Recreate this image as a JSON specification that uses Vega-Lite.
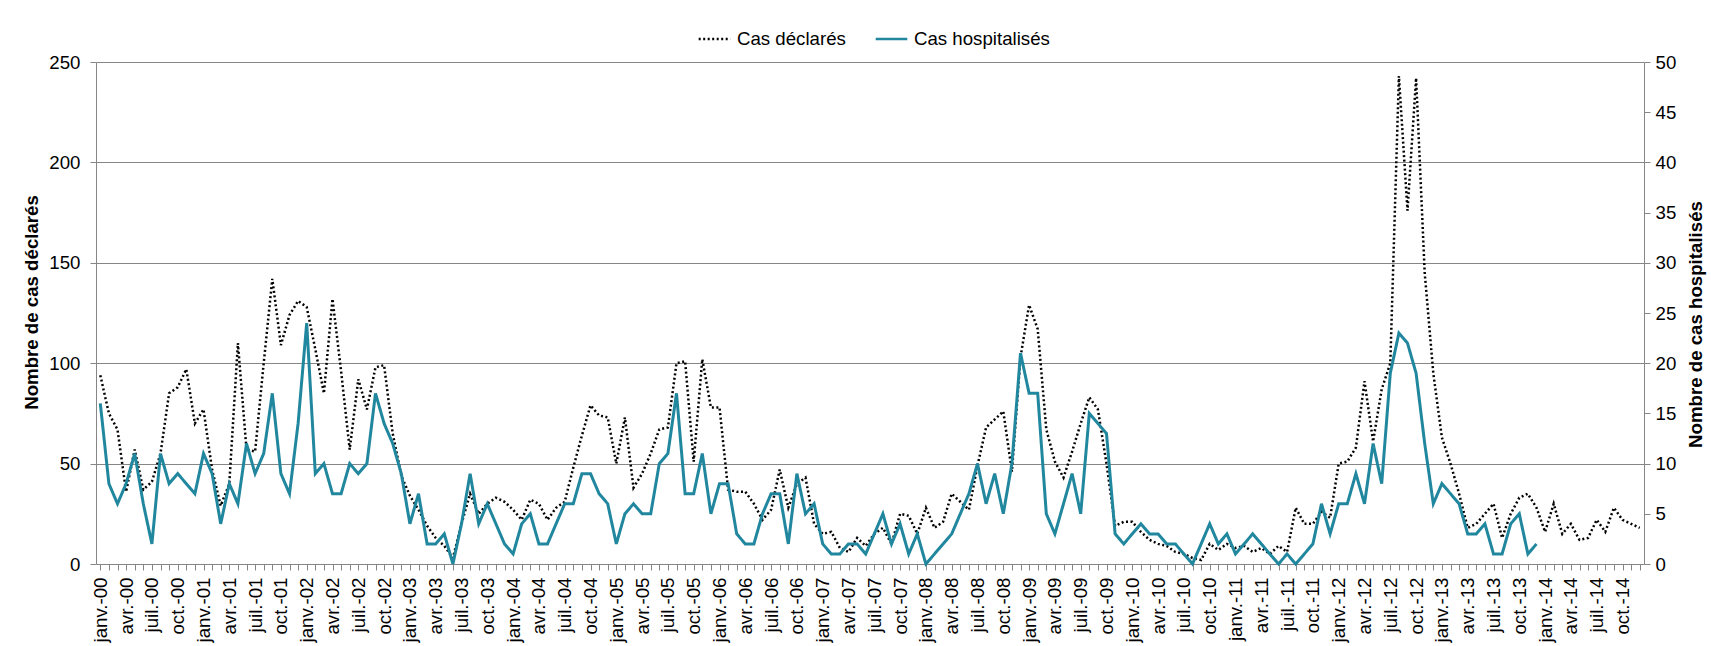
{
  "$schema": "https://vega.github.io/schema/vega-lite/v6.json",
  "width": 1548,
  "height": 502,
  "autosize": {"type": "none"},
  "padding": {"left": 96, "top": 62, "right": 67, "bottom": 82},
  "background": "white",
  "config": {
    "font": "Liberation Sans",
    "view": {"stroke": null},
    "axis": {
      "labelFont": "Liberation Sans",
      "titleFont": "Liberation Sans",
      "labelFontSize": 18.67,
      "titleFontSize": 18.67,
      "titleFontWeight": "bold",
      "labelColor": "#000000",
      "titleColor": "#000000",
      "domainColor": "#868686",
      "tickColor": "#868686",
      "gridColor": "#868686",
      "domainWidth": 1,
      "tickWidth": 1,
      "gridWidth": 1,
      "tickSize": 6
    },
    "legend": {"labelFont": "Liberation Sans"}
  },
  "data": {"values": [
    {"date":"2000-01","declares":94,"hospitalises":16},{"date":"2000-02","declares":75,"hospitalises":8},{"date":"2000-03","declares":67,"hospitalises":6},{"date":"2000-04","declares":36,"hospitalises":8},{"date":"2000-05","declares":57,"hospitalises":11},{"date":"2000-06","declares":37,"hospitalises":6},{"date":"2000-07","declares":41,"hospitalises":2},{"date":"2000-08","declares":55,"hospitalises":11},{"date":"2000-09","declares":85,"hospitalises":8},{"date":"2000-10","declares":88,"hospitalises":9},{"date":"2000-11","declares":97,"hospitalises":8},{"date":"2000-12","declares":70,"hospitalises":7},
    {"date":"2001-01","declares":77,"hospitalises":11},{"date":"2001-02","declares":47,"hospitalises":9},{"date":"2001-03","declares":29,"hospitalises":4},{"date":"2001-04","declares":40,"hospitalises":8},{"date":"2001-05","declares":110,"hospitalises":6},{"date":"2001-06","declares":57,"hospitalises":12},{"date":"2001-07","declares":56,"hospitalises":9},{"date":"2001-08","declares":100,"hospitalises":11},{"date":"2001-09","declares":142,"hospitalises":17},{"date":"2001-10","declares":109,"hospitalises":9},{"date":"2001-11","declares":124,"hospitalises":7},{"date":"2001-12","declares":131,"hospitalises":14},
    {"date":"2002-01","declares":128,"hospitalises":24},{"date":"2002-02","declares":107,"hospitalises":9},{"date":"2002-03","declares":85,"hospitalises":10},{"date":"2002-04","declares":132,"hospitalises":7},{"date":"2002-05","declares":96,"hospitalises":7},{"date":"2002-06","declares":57,"hospitalises":10},{"date":"2002-07","declares":92,"hospitalises":9},{"date":"2002-08","declares":77,"hospitalises":10},{"date":"2002-09","declares":98,"hospitalises":17},{"date":"2002-10","declares":99,"hospitalises":14},{"date":"2002-11","declares":65,"hospitalises":12},{"date":"2002-12","declares":44,"hospitalises":9},
    {"date":"2003-01","declares":34,"hospitalises":4},{"date":"2003-02","declares":27,"hospitalises":7},{"date":"2003-03","declares":19,"hospitalises":2},{"date":"2003-04","declares":13,"hospitalises":2},{"date":"2003-05","declares":9,"hospitalises":3},{"date":"2003-06","declares":3,"hospitalises":0},{"date":"2003-07","declares":20,"hospitalises":4},{"date":"2003-08","declares":35,"hospitalises":9},{"date":"2003-09","declares":25,"hospitalises":4},{"date":"2003-10","declares":30,"hospitalises":6},{"date":"2003-11","declares":33,"hospitalises":4},{"date":"2003-12","declares":31,"hospitalises":2},
    {"date":"2004-01","declares":27,"hospitalises":1},{"date":"2004-02","declares":22,"hospitalises":4},{"date":"2004-03","declares":32,"hospitalises":5},{"date":"2004-04","declares":30,"hospitalises":2},{"date":"2004-05","declares":22,"hospitalises":2},{"date":"2004-06","declares":28,"hospitalises":4},{"date":"2004-07","declares":31,"hospitalises":6},{"date":"2004-08","declares":48,"hospitalises":6},{"date":"2004-09","declares":64,"hospitalises":9},{"date":"2004-10","declares":79,"hospitalises":9},{"date":"2004-11","declares":74,"hospitalises":7},{"date":"2004-12","declares":73,"hospitalises":6},
    {"date":"2005-01","declares":50,"hospitalises":2},{"date":"2005-02","declares":73,"hospitalises":5},{"date":"2005-03","declares":38,"hospitalises":6},{"date":"2005-04","declares":45,"hospitalises":5},{"date":"2005-05","declares":55,"hospitalises":5},{"date":"2005-06","declares":67,"hospitalises":10},{"date":"2005-07","declares":68,"hospitalises":11},{"date":"2005-08","declares":100,"hospitalises":17},{"date":"2005-09","declares":101,"hospitalises":7},{"date":"2005-10","declares":51,"hospitalises":7},{"date":"2005-11","declares":102,"hospitalises":11},{"date":"2005-12","declares":78,"hospitalises":5},
    {"date":"2006-01","declares":78,"hospitalises":8},{"date":"2006-02","declares":37,"hospitalises":8},{"date":"2006-03","declares":36,"hospitalises":3},{"date":"2006-04","declares":36,"hospitalises":2},{"date":"2006-05","declares":30,"hospitalises":2},{"date":"2006-06","declares":22,"hospitalises":5},{"date":"2006-07","declares":27,"hospitalises":7},{"date":"2006-08","declares":47,"hospitalises":7},{"date":"2006-09","declares":28,"hospitalises":2},{"date":"2006-10","declares":40,"hospitalises":9},{"date":"2006-11","declares":43,"hospitalises":5},{"date":"2006-12","declares":20,"hospitalises":6},
    {"date":"2007-01","declares":15,"hospitalises":2},{"date":"2007-02","declares":16,"hospitalises":1},{"date":"2007-03","declares":8,"hospitalises":1},{"date":"2007-04","declares":6,"hospitalises":2},{"date":"2007-05","declares":13,"hospitalises":2},{"date":"2007-06","declares":9,"hospitalises":1},{"date":"2007-07","declares":15,"hospitalises":3},{"date":"2007-08","declares":18,"hospitalises":5},{"date":"2007-09","declares":10,"hospitalises":2},{"date":"2007-10","declares":25,"hospitalises":4},{"date":"2007-11","declares":24,"hospitalises":1},{"date":"2007-12","declares":15,"hospitalises":3},
    {"date":"2008-01","declares":28,"hospitalises":0},{"date":"2008-02","declares":18,"hospitalises":1},{"date":"2008-03","declares":21,"hospitalises":2},{"date":"2008-04","declares":35,"hospitalises":3},{"date":"2008-05","declares":31,"hospitalises":5},{"date":"2008-06","declares":27,"hospitalises":7},{"date":"2008-07","declares":49,"hospitalises":10},{"date":"2008-08","declares":68,"hospitalises":6},{"date":"2008-09","declares":72,"hospitalises":9},{"date":"2008-10","declares":76,"hospitalises":5},{"date":"2008-11","declares":46,"hospitalises":10},{"date":"2008-12","declares":103,"hospitalises":21},
    {"date":"2009-01","declares":129,"hospitalises":17},{"date":"2009-02","declares":117,"hospitalises":17},{"date":"2009-03","declares":67,"hospitalises":5},{"date":"2009-04","declares":51,"hospitalises":3},{"date":"2009-05","declares":43,"hospitalises":6},{"date":"2009-06","declares":56,"hospitalises":9},{"date":"2009-07","declares":70,"hospitalises":5},{"date":"2009-08","declares":83,"hospitalises":15},{"date":"2009-09","declares":77,"hospitalises":14},{"date":"2009-10","declares":50,"hospitalises":13},{"date":"2009-11","declares":19,"hospitalises":3},{"date":"2009-12","declares":21,"hospitalises":2},
    {"date":"2010-01","declares":21,"hospitalises":3},{"date":"2010-02","declares":16,"hospitalises":4},{"date":"2010-03","declares":12,"hospitalises":3},{"date":"2010-04","declares":10,"hospitalises":3},{"date":"2010-05","declares":9,"hospitalises":2},{"date":"2010-06","declares":6,"hospitalises":2},{"date":"2010-07","declares":5,"hospitalises":1},{"date":"2010-08","declares":3,"hospitalises":0},{"date":"2010-09","declares":2,"hospitalises":2},{"date":"2010-10","declares":10,"hospitalises":4},{"date":"2010-11","declares":7,"hospitalises":2},{"date":"2010-12","declares":10,"hospitalises":3},
    {"date":"2011-01","declares":8,"hospitalises":1},{"date":"2011-02","declares":9,"hospitalises":2},{"date":"2011-03","declares":6,"hospitalises":3},{"date":"2011-04","declares":8,"hospitalises":2},{"date":"2011-05","declares":5,"hospitalises":1},{"date":"2011-06","declares":9,"hospitalises":0},{"date":"2011-07","declares":6,"hospitalises":1},{"date":"2011-08","declares":28,"hospitalises":0},{"date":"2011-09","declares":20,"hospitalises":1},{"date":"2011-10","declares":20,"hospitalises":2},{"date":"2011-11","declares":26,"hospitalises":6},{"date":"2011-12","declares":23,"hospitalises":3},
    {"date":"2012-01","declares":50,"hospitalises":6},{"date":"2012-02","declares":51,"hospitalises":6},{"date":"2012-03","declares":58,"hospitalises":9},{"date":"2012-04","declares":91,"hospitalises":6},{"date":"2012-05","declares":61,"hospitalises":12},{"date":"2012-06","declares":87,"hospitalises":8},{"date":"2012-07","declares":100,"hospitalises":19},{"date":"2012-08","declares":243,"hospitalises":23},{"date":"2012-09","declares":176,"hospitalises":22},{"date":"2012-10","declares":242,"hospitalises":19},{"date":"2012-11","declares":145,"hospitalises":12},{"date":"2012-12","declares":95,"hospitalises":6},
    {"date":"2013-01","declares":63,"hospitalises":8},{"date":"2013-02","declares":50,"hospitalises":7},{"date":"2013-03","declares":35,"hospitalises":6},{"date":"2013-04","declares":18,"hospitalises":3},{"date":"2013-05","declares":20,"hospitalises":3},{"date":"2013-06","declares":25,"hospitalises":4},{"date":"2013-07","declares":30,"hospitalises":1},{"date":"2013-08","declares":13,"hospitalises":1},{"date":"2013-09","declares":25,"hospitalises":4},{"date":"2013-10","declares":33,"hospitalises":5},{"date":"2013-11","declares":35,"hospitalises":1},{"date":"2013-12","declares":28,"hospitalises":2},
    {"date":"2014-01","declares":16,"hospitalises":null},{"date":"2014-02","declares":30,"hospitalises":null},{"date":"2014-03","declares":15,"hospitalises":null},{"date":"2014-04","declares":20,"hospitalises":null},{"date":"2014-05","declares":12,"hospitalises":null},{"date":"2014-06","declares":13,"hospitalises":null},{"date":"2014-07","declares":22,"hospitalises":null},{"date":"2014-08","declares":16,"hospitalises":null},{"date":"2014-09","declares":28,"hospitalises":null},{"date":"2014-10","declares":22,"hospitalises":null},{"date":"2014-11","declares":20,"hospitalises":null},{"date":"2014-12","declares":18,"hospitalises":null}
  ]},
  "transform": [{"fold": ["declares", "hospitalises"], "as": ["serie", "valeur"]}],
  "encoding": {
    "x": {
      "field": "date",
      "timeUnit": "utcyearmonth",
      "type": "ordinal",
      "scale": {"type": "point", "padding": 0.5},
      "axis": {
        "title": null,
        "labelAngle": 270,
        "labelPadding": 7,
        "labelOverlap": false,
        "labelBound": false,
        "grid": false,
        "labelExpr": "utcmonth(datum.value) % 3 == 0 ? (['janv.','avr.','juil.','oct.'][utcmonth(datum.value) / 3] + '-' + utcFormat(datum.value, '%y')) : ''"
      }
    },
    "color": {
      "field": "serie",
      "type": "nominal",
      "scale": {"domain": ["declares", "hospitalises"], "range": ["#000000", "#21879E"]},
      "legend": {
        "title": null,
        "orient": "none",
        "legendX": 601,
        "legendY": -41,
        "direction": "horizontal",
        "padding": 0,
        "symbolType": "stroke",
        "symbolSize": 1000,
        "symbolStrokeWidth": 2.5,
        "labelFontSize": 18.67,
        "labelColor": "#000000",
        "labelOffset": 5,
        "columnPadding": 24,
        "labelExpr": "datum.label == 'declares' ? 'Cas déclarés' : 'Cas hospitalisés'"
      }
    },
    "strokeDash": {
      "field": "serie",
      "type": "nominal",
      "scale": {"domain": ["declares", "hospitalises"], "range": [[2, 2.5], [1, 0]]},
      "legend": {
        "title": null,
        "orient": "none",
        "legendX": 601,
        "legendY": -41,
        "direction": "horizontal",
        "padding": 0,
        "symbolType": "stroke",
        "symbolSize": 1000,
        "symbolStrokeWidth": 2.5,
        "labelFontSize": 18.67,
        "labelColor": "#000000",
        "labelOffset": 5,
        "columnPadding": 24,
        "labelExpr": "datum.label == 'declares' ? 'Cas déclarés' : 'Cas hospitalisés'"
      }
    }
  },
  "layer": [
    {
      "transform": [{"filter": "datum.serie == 'declares'"}],
      "mark": {"type": "line", "strokeWidth": 2.5, "strokeCap": "butt"},
      "encoding": {
        "y": {
          "field": "valeur",
          "type": "quantitative",
          "scale": {"domain": [0, 250], "nice": false},
          "axis": {
            "orient": "left",
            "title": "Nombre de cas déclarés",
            "values": [0, 50, 100, 150, 200, 250],
            "grid": true,
            "labelPadding": 10,
            "titleAngle": 270,
            "titleX": -65,
            "titleY": 240,
            "titleAlign": "center",
            "titleBaseline": "middle"
          }
        }
      }
    },
    {
      "transform": [{"filter": "datum.serie == 'hospitalises'"}],
      "mark": {"type": "line", "strokeWidth": 3},
      "encoding": {
        "y": {
          "field": "valeur",
          "type": "quantitative",
          "scale": {"domain": [0, 50], "nice": false},
          "axis": {
            "orient": "right",
            "title": "Nombre de cas hospitalisés",
            "values": [0, 5, 10, 15, 20, 25, 30, 35, 40, 45, 50],
            "grid": false,
            "labelPadding": 5,
            "titleAngle": 270,
            "titleX": 51,
            "titleY": 262,
            "titleAlign": "center",
            "titleBaseline": "middle"
          }
        }
      }
    }
  ],
  "resolve": {"scale": {"y": "independent"}}
}
